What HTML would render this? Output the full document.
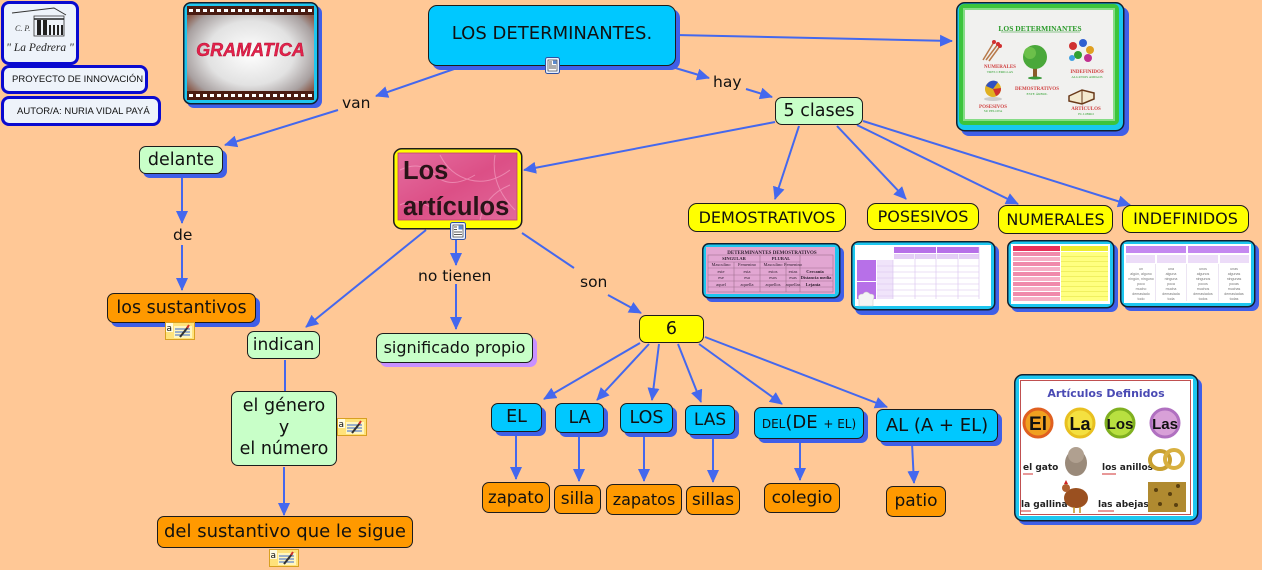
<!DOCTYPE html>
<html><head><meta charset="utf-8">
<style>
*{margin:0;padding:0;box-sizing:border-box}
body{width:1262px;height:570px;background:#FFC896;position:relative;overflow:hidden;font-family:"DejaVu Sans","Liberation Sans",sans-serif;color:#111}
svg{position:absolute;left:0;top:0}
.n{position:absolute;display:flex;align-items:center;justify-content:center;text-align:center;border:1.5px solid #1c1c1c;border-radius:7px;font-size:17.5px;line-height:1.2;white-space:nowrap;color:#111}
.g{background:#C8FFC8}
.c{background:#00C8FF}
.o{background:#FF9900}
.y{background:#FFFF00}
.sh{box-shadow:4px 4px 0 #3F5FE8}
.l{position:absolute;font-size:15.5px;white-space:nowrap;line-height:16px;color:#111}
.b{position:absolute;border:3px solid #0a0ad0;border-radius:8px;background:#eef3fa;font-family:"Liberation Sans",sans-serif;font-size:9.5px;color:#111;white-space:nowrap;display:flex;align-items:center}
</style></head><body>

<svg width="1262" height="570" viewBox="0 0 1262 570">
<defs>
<marker id="ah" markerWidth="13" markerHeight="12" refX="12" refY="6" orient="auto" markerUnits="userSpaceOnUse"><path d="M0,0L13,6L0,12z" fill="#4468EE"/></marker>
<radialGradient id="gr" cx="50%" cy="50%" r="62%"><stop offset="0" stop-color="#ffffff"/><stop offset=".55" stop-color="#e2e2e2"/><stop offset=".85" stop-color="#a8a0a0"/><stop offset="1" stop-color="#8a5a4a"/></radialGradient>
<linearGradient id="pk" x1="0" y1="0" x2="1" y2="1"><stop offset="0" stop-color="#e46ea0"/><stop offset=".5" stop-color="#dc4f86"/><stop offset="1" stop-color="#e2689a"/></linearGradient>
</defs>

<!-- connectors -->
<g stroke="#4468EE" stroke-width="2" fill="none" marker-end="url(#ah)">
<path d="M676,35L952,41"/>
<path d="M457,68L376,96"/>
<path d="M338,110L225,145"/>
<path d="M672,67L709,78"/>
<path d="M746,89L772,97"/>
<path d="M775,122L524,170"/>
<path d="M799,126L775,199"/>
<path d="M837,126L906,199"/>
<path d="M857,125L1018,204"/>
<path d="M863,121L1130,205"/>
<path d="M182,176L182,223"/>
<path d="M182,245L182,290"/>
<path d="M426,230L306,327"/>
<path d="M456,240L456,265"/>
<path d="M456,284L456,329"/>
<path d="M522,233L574,268" marker-end="none"/>
<path d="M608,295L641,313"/>
<path d="M285,360L285,391" marker-end="none"/>
<path d="M284,467L284,515"/>
<path d="M640,343L544,399"/>
<path d="M649,344L597,400"/>
<path d="M659,344L652,400"/>
<path d="M678,344L701,402"/>
<path d="M699,344L782,404"/>
<path d="M705,337L887,407"/>
<path d="M516,432L516,479"/>
<path d="M579,432L579,481"/>
<path d="M644,433L644,481"/>
<path d="M713,435L713,482"/>
<path d="M800,440L800,480"/>
<path d="M912,443L914,483"/>
</g>

<!-- GRAMATICA image -->
<rect x="187" y="6" width="135" height="102" rx="7" fill="#3F5FE8"/>
<rect x="183.75" y="2.75" width="134" height="101" rx="7" fill="#1ec6ef" stroke="#102030" stroke-width="1.5"/>
<rect x="187" y="6" width="127" height="94" fill="url(#gr)"/>
<rect x="187" y="6" width="127" height="9" fill="#4a1c12"/>
<rect x="187" y="91" width="127" height="9" fill="#4a1c12"/>
<line x1="189" y1="10.5" x2="313" y2="10.5" stroke="#fff" stroke-width="3" stroke-dasharray="4 3"/>
<line x1="189" y1="95.5" x2="313" y2="95.5" stroke="#fff" stroke-width="3" stroke-dasharray="4 3"/>
<text x="250.5" y="56" text-anchor="middle" font-family="Liberation Sans" font-weight="bold" font-style="italic" font-size="18" fill="#e3224c" stroke="#b01030" stroke-width=".4">GRAMATICA</text>

<!-- Top-right image -->
<rect x="961" y="7" width="168" height="129" rx="8" fill="#3F5FE8"/>
<rect x="956.75" y="2.75" width="167" height="128" rx="8" fill="#18c8ee" stroke="#102030" stroke-width="1.5"/>
<rect x="959" y="4" width="160" height="121" rx="5" fill="#3cc43c"/>
<rect x="963" y="8" width="152" height="113" fill="#86dc86"/>
<rect x="965" y="10" width="148" height="109" fill="#f1f1ef"/>
<text x="1040" y="31" text-anchor="middle" font-family="Liberation Serif" font-weight="bold" font-size="7.5" fill="#2a9a2a">LOS DETERMINANTES</text>
<line x1="1001" y1="32" x2="1080" y2="32" stroke="#2a9a2a" stroke-width=".6"/>
<g stroke="#b87a4a" stroke-width="1.5"><path d="M983,60L994,42"/><path d="M986,60L998,44"/><path d="M989,61L1000,46"/></g>
<circle cx="994" cy="42" r="2" fill="#d03030"/><circle cx="998" cy="44" r="2" fill="#d03030"/><circle cx="1000" cy="46" r="2" fill="#d03030"/>
<text x="1000" y="68" text-anchor="middle" font-family="Liberation Serif" font-size="5" fill="#d04040" font-weight="bold">NUMERALES</text>
<text x="1000" y="73" text-anchor="middle" font-family="Liberation Serif" font-size="3.5" fill="#30a030">TRES CERILLAS</text>
<rect x="1033" y="63" width="4" height="15" fill="#8a5a2a"/>
<circle cx="1035" cy="57" r="12" fill="#4aa83a"/><circle cx="1030" cy="53" r="6" fill="#6cc04a"/>
<ellipse cx="1035" cy="78" rx="7" ry="1.5" fill="#3a9a3a"/>
<circle cx="1073" cy="46" r="4" fill="#d03030"/><circle cx="1083" cy="43" r="4" fill="#3060d0"/><circle cx="1090" cy="50" r="4" fill="#e0a020"/><circle cx="1078" cy="55" r="4" fill="#30a030"/><circle cx="1088" cy="58" r="4" fill="#c03090"/><circle cx="1072" cy="58" r="3" fill="#40a0e0"/>
<text x="1087" y="73" text-anchor="middle" font-family="Liberation Serif" font-size="5" fill="#d04040" font-weight="bold">INDEFINIDOS</text>
<text x="1087" y="78" text-anchor="middle" font-family="Liberation Serif" font-size="3.5" fill="#30a030">ALGUNOS AMIGOS</text>
<circle cx="993" cy="89" r="8" fill="#e0b020"/><path d="M986,86 A8,8 0 0 1 998,82 L993,89z" fill="#3050c0"/><path d="M993,89 L1001,88 A8,8 0 0 1 996,96z" fill="#d03030"/>
<ellipse cx="993" cy="99" rx="9" ry="2" fill="#ccc"/>
<text x="1037" y="90" text-anchor="middle" font-family="Liberation Serif" font-size="5" fill="#d04040" font-weight="bold">DEMOSTRATIVOS</text>
<text x="1037" y="95" text-anchor="middle" font-family="Liberation Serif" font-size="3.5" fill="#30a030">ESTE ÁRBOL</text>
<text x="993" y="108" text-anchor="middle" font-family="Liberation Serif" font-size="5" fill="#d04040" font-weight="bold">POSESIVOS</text>
<text x="993" y="112" text-anchor="middle" font-family="Liberation Serif" font-size="3.5" fill="#30a030">SU PELOTA</text>
<path d="M1069,96 L1082,90 L1094,93 L1094,99 L1082,104 L1069,101z" fill="#f4ead0" stroke="#6a3a1a" stroke-width="1.5"/>
<path d="M1082,90 L1082,104" stroke="#6a3a1a" stroke-width="1"/>
<text x="1086" y="110" text-anchor="middle" font-family="Liberation Serif" font-size="5" fill="#d04040" font-weight="bold">ARTÍCULOS</text>
<text x="1086" y="115" text-anchor="middle" font-family="Liberation Serif" font-size="3.5" fill="#30a030">EL LIBRO</text>

<!-- Demostrativos thumbnail -->
<rect x="706" y="247" width="138" height="55" rx="6" fill="#3F5FE8"/>
<rect x="702.75" y="243.75" width="137" height="54" rx="6" fill="#1ec6ef" stroke="#102030" stroke-width="1.5"/>
<rect x="706" y="247" width="129" height="47" fill="#e2a6d2"/>
<text x="772" y="254" text-anchor="middle" font-family="Liberation Serif" font-weight="bold" font-size="5" fill="#302030">DETERMINANTES DEMOSTRATIVOS</text>
<g stroke="#a07090" stroke-width=".6" fill="none">
<rect x="708" y="255" width="125" height="37"/>
<path d="M708,262H800M708,268H833M708,275H833M708,281H833M708,287H833M734,262V292M760,255V292M786,262V292M800,255V292"/>
</g>
<g font-family="Liberation Serif" font-size="4.5" fill="#302030" text-anchor="middle">
<text x="734" y="260" font-weight="bold">SINGULAR</text><text x="781" y="260" font-weight="bold">PLURAL</text>
<text x="721" y="266">Masculino</text><text x="747" y="266">Femenino</text><text x="773" y="266">Masculino</text><text x="793" y="266">Femenino</text>
<text x="721" y="273">este</text><text x="747" y="273">esta</text><text x="773" y="273">estos</text><text x="793" y="273">estas</text><text x="815" y="273" font-weight="bold">Cercanía</text>
<text x="721" y="279">ese</text><text x="747" y="279">esa</text><text x="773" y="279">esos</text><text x="793" y="279">esas</text><text x="816" y="279" font-weight="bold">Distancia media</text>
<text x="721" y="286">aquel</text><text x="747" y="286">aquella</text><text x="773" y="286">aquellos</text><text x="793" y="286">aquellas</text><text x="813" y="286" font-weight="bold">Lejanía</text>
</g>

<!-- Posesivos thumbnail -->
<rect x="855" y="245" width="144" height="70" rx="7" fill="#3F5FE8"/>
<rect x="851.75" y="241.75" width="143" height="68" rx="7" fill="#1ec6ef" stroke="#102030" stroke-width="1.5"/>
<rect x="855" y="245" width="136" height="61" fill="#ffffff"/>
<rect x="894" y="247" width="42" height="6" fill="#b770e8"/><rect x="937" y="247" width="42" height="6" fill="#b770e8"/>
<g fill="#e4cdf6"><rect x="894" y="254" width="20" height="5"/><rect x="915" y="254" width="21" height="5"/><rect x="937" y="254" width="21" height="5"/><rect x="959" y="254" width="20" height="5"/></g>
<rect x="857" y="260" width="19" height="21" fill="#b770e8"/><rect x="857" y="282" width="19" height="17" fill="#b770e8"/>
<g fill="#f0e4fa"><rect x="877" y="260" width="16" height="39"/></g>
<g stroke="#d8c0ee" stroke-width=".6"><path d="M877,266H979M877,272H979M877,278H979M877,284H979M877,290H979M877,296H979M893,260V299M915,254V299M936,254V299M958,254V299M979,247V299"/></g>
<path d="M859,300 q-2,-6 4,-6 q3,-4 7,0 q6,0 3,6 v6 h-14z" fill="#f4f4f4" stroke="#ccc" stroke-width=".6"/>

<!-- Numerales thumbnail -->
<rect x="1011" y="244" width="107" height="68" rx="7" fill="#3F5FE8"/>
<rect x="1007.75" y="240.75" width="106" height="67" rx="7" fill="#1ec6ef" stroke="#102030" stroke-width="1.5"/>
<rect x="1011" y="244" width="99" height="60" fill="#ffffff"/>
<rect x="1013" y="246" width="47" height="5" fill="#e8305a"/><rect x="1061" y="246" width="47" height="5" fill="#ecec30"/>
<g fill="#f08aab"><rect x="1013" y="252" width="47" height="4"/><rect x="1013" y="262" width="47" height="4"/><rect x="1013" y="272" width="47" height="4"/><rect x="1013" y="282" width="47" height="4"/><rect x="1013" y="292" width="47" height="4"/></g>
<g fill="#f6b0c6"><rect x="1013" y="257" width="47" height="4"/><rect x="1013" y="267" width="47" height="4"/><rect x="1013" y="277" width="47" height="4"/><rect x="1013" y="287" width="47" height="4"/><rect x="1013" y="297" width="47" height="4"/></g>
<rect x="1061" y="252" width="47" height="49" fill="#ffff80"/>
<g stroke="#e0e040" stroke-width=".5"><path d="M1061,256.5H1108M1061,261.5H1108M1061,266.5H1108M1061,271.5H1108M1061,276.5H1108M1061,281.5H1108M1061,286.5H1108M1061,291.5H1108M1061,296.5H1108"/></g>

<!-- Indefinidos thumbnail -->
<rect x="1124" y="244" width="135" height="67" rx="7" fill="#3F5FE8"/>
<rect x="1120.75" y="240.75" width="134" height="66" rx="7" fill="#1ec6ef" stroke="#102030" stroke-width="1.5"/>
<rect x="1124" y="244" width="127" height="59" fill="#ffffff"/>
<rect x="1126" y="246" width="60" height="7" fill="#c488f0"/><rect x="1188" y="246" width="61" height="7" fill="#c488f0"/>
<g fill="#ecdcf8"><rect x="1126" y="255" width="29" height="8"/><rect x="1157" y="255" width="29" height="8"/><rect x="1188" y="255" width="30" height="8"/><rect x="1220" y="255" width="29" height="8"/></g>
<g stroke="#e0d4ec" stroke-width=".6"><path d="M1155.5,264V301M1186.5,264V301M1218.5,264V301"/></g>
<g font-family="Liberation Sans" font-size="3.6" fill="#777" text-anchor="middle">
<text x="1141" y="270">un</text><text x="1141" y="275">algún, alguno</text><text x="1141" y="280">ningún, ninguno</text><text x="1141" y="285">poco</text><text x="1141" y="290">mucho</text><text x="1141" y="295">demasiado</text><text x="1141" y="300">todo</text>
<text x="1171" y="270">una</text><text x="1171" y="275">alguna</text><text x="1171" y="280">ninguna</text><text x="1171" y="285">poca</text><text x="1171" y="290">mucha</text><text x="1171" y="295">demasiada</text><text x="1171" y="300">toda</text>
<text x="1203" y="270">unos</text><text x="1203" y="275">algunos</text><text x="1203" y="280">ningunos</text><text x="1203" y="285">pocos</text><text x="1203" y="290">muchos</text><text x="1203" y="295">demasiados</text><text x="1203" y="300">todos</text>
<text x="1234" y="270">unas</text><text x="1234" y="275">algunas</text><text x="1234" y="280">ningunas</text><text x="1234" y="285">pocas</text><text x="1234" y="290">muchas</text><text x="1234" y="295">demasiadas</text><text x="1234" y="300">todas</text>
</g>

<!-- Artículos definidos image -->
<rect x="1018" y="378" width="184" height="147" rx="8" fill="#3F5FE8"/>
<rect x="1014.75" y="374.75" width="183" height="146" rx="8" fill="#1ec6ef" stroke="#102030" stroke-width="1.5"/>
<rect x="1019" y="379" width="174" height="137" fill="#ffffff"/>
<rect x="1020.5" y="380.5" width="170" height="134" fill="none" stroke="#c05050" stroke-width="1"/>
<text x="1106" y="397" text-anchor="middle" font-family="DejaVu Sans" font-weight="bold" font-size="11" fill="#4a4ab4">Artículos Definidos</text>
<circle cx="1038" cy="423" r="14" fill="#f0a020" stroke="#e06020" stroke-width="3"/>
<circle cx="1080" cy="423" r="14" fill="#f4e040" stroke="#e8c020" stroke-width="3"/>
<circle cx="1120" cy="423" r="14" fill="#b8e040" stroke="#80b020" stroke-width="3"/>
<circle cx="1165" cy="423" r="14" fill="#d8a0d8" stroke="#b070c0" stroke-width="3"/>
<g font-family="Liberation Sans" font-weight="bold" fill="#111" text-anchor="middle">
<text x="1038" y="430" font-size="19">El</text><text x="1080" y="430" font-size="18">La</text><text x="1120" y="429" font-size="15">Los</text><text x="1165" y="429" font-size="15">Las</text>
</g>
<g font-family="DejaVu Sans" font-weight="bold" font-size="9" fill="#222">
<text x="1023" y="470">el gato</text><text x="1102" y="470">los anillos</text>
<text x="1021" y="507">la gallina</text><text x="1098" y="507">las abejas</text>
</g>
<g stroke="#d03030" stroke-width="1"><path d="M1023,474h10M1102,474h14M1021,511h10M1098,511h16"/></g>
<ellipse cx="1076" cy="463" rx="11" ry="13" fill="#9a8a7a"/><circle cx="1076" cy="455" r="8" fill="#b0a090"/>
<ellipse cx="1160" cy="460" rx="10" ry="9" fill="none" stroke="#c8a030" stroke-width="4"/><ellipse cx="1174" cy="459" rx="9" ry="9" fill="none" stroke="#d8b040" stroke-width="4"/>
<ellipse cx="1076" cy="498" rx="12" ry="10" fill="#9a5020"/><circle cx="1066" cy="488" r="4" fill="#b06030"/><path d="M1064,484l2,-4l2,4z" fill="#d02020"/><path d="M1074,507v6M1080,507v6" stroke="#c09020" stroke-width="1.5"/>
<rect x="1148" y="482" width="38" height="30" fill="#b08a30"/><g fill="#5a4010"><circle cx="1156" cy="490" r="2"/><circle cx="1170" cy="494" r="2"/><circle cx="1178" cy="486" r="2"/><circle cx="1160" cy="504" r="2"/><circle cx="1176" cy="505" r="2"/></g>

<!-- Los artículos node -->
<rect x="393.75" y="148.75" width="128" height="80" rx="8" fill="#FFFF00" stroke="#1c1c1c" stroke-width="1.5"/>
<rect x="398" y="153" width="119" height="67" fill="url(#pk)" stroke="#c04070" stroke-width=".8"/>
<g fill="none" stroke="#f6a8c8" stroke-width="1" opacity=".6">
<path d="M400,170 q20,-10 35,5 t40,0"/><path d="M440,155 q10,20 30,25 t40,-10"/><path d="M480,220 q5,-25 30,-35"/><path d="M400,205 q15,-8 30,2"/><path d="M495,155 q-5,30 20,55"/>
</g>
<text x="403" y="179" font-family="Liberation Sans" font-weight="bold" font-size="25.5" fill="#2a1418">Los</text>
<text x="403" y="215" font-family="Liberation Sans" font-weight="bold" font-size="25.5" fill="#2a1418">artículos</text>
</svg>

<!-- Logo & info boxes -->
<div class="b" style="left:1px;top:1px;width:78px;height:64px;"></div>
<svg width="1262" height="570" viewBox="0 0 1262 570" style="pointer-events:none">
<path d="M12,13 L54,8 L66,15" stroke="#333" stroke-width="1" fill="none"/>
<path d="M34,16 L64,16 L64,36 L34,36z" fill="none" stroke="#333" stroke-width=".8"/>
<rect x="37" y="20" width="4" height="15" fill="#222"/><rect x="43" y="20" width="4" height="15" fill="#222"/><rect x="49" y="25" width="2" height="10" fill="#222"/><rect x="53" y="25" width="2" height="10" fill="#222"/><rect x="57" y="25" width="2" height="10" fill="#222"/><rect x="61" y="25" width="2" height="10" fill="#222"/>
<path d="M34,19 H64" stroke="#222" stroke-width="1.5"/>
<text x="15" y="31" font-family="Liberation Serif" font-style="italic" font-size="8" fill="#333">C. P.</text>
<text x="40" y="51" text-anchor="middle" font-family="Liberation Serif" font-style="italic" font-size="11.5" fill="#222">" La Pedrera "</text>
</svg>
<div class="b" style="left:1px;top:65px;width:147px;height:29px;padding-left:8px;">PROYECTO DE INNOVACIÓN</div>
<div class="b" style="left:1px;top:96px;width:160px;height:30px;padding-left:13px;">AUTOR/A: NURIA VIDAL PAYÁ</div>

<!-- nodes -->
<div class="n c sh" style="left:428px;top:5px;width:248px;height:61px;border-radius:9px;font-size:18px;padding-bottom:4px;">LOS DETERMINANTES.</div>
<div class="n g" style="left:775px;top:97px;width:88px;height:28px;">5 clases</div>
<div class="n g sh" style="left:139px;top:146px;width:84px;height:28px;">delante</div>
<div class="n o sh" style="left:107px;top:293px;width:149px;height:30px;">los sustantivos</div>
<div class="n g" style="left:247px;top:331px;width:73px;height:28px;font-size:17px;">indican</div>
<div class="n g" style="left:376px;top:333px;width:157px;height:30px;box-shadow:4px 4px 0 #C890FF;font-size:16px;">significado propio</div>
<div class="n g" style="left:231px;top:391px;width:106px;height:75px;line-height:21.5px;">el género<br>y<br>el número</div>
<div class="n o" style="left:157px;top:516px;width:256px;height:32px;font-size:18px;">del sustantivo que le sigue</div>

<div class="n y" style="left:688px;top:203px;width:158px;height:29px;font-size:16px;border-radius:9px;">DEMOSTRATIVOS</div>
<div class="n y" style="left:867px;top:203px;width:112px;height:27px;font-size:16px;border-radius:9px;">POSESIVOS</div>
<div class="n y" style="left:998px;top:205px;width:115px;height:29px;font-size:16px;border-radius:9px;">NUMERALES</div>
<div class="n y" style="left:1122px;top:205px;width:127px;height:28px;font-size:16px;border-radius:9px;">INDEFINIDOS</div>

<div class="n y" style="left:639px;top:315px;width:65px;height:28px;">6</div>
<div class="n c sh" style="left:491px;top:403px;width:51px;height:29px;">EL</div>
<div class="n c sh" style="left:555px;top:403px;width:49px;height:30px;">LA</div>
<div class="n c sh" style="left:620px;top:403px;width:53px;height:30px;">LOS</div>
<div class="n c sh" style="left:685px;top:405px;width:50px;height:30px;font-size:17px;">LAS</div>
<div class="n c sh" style="left:754px;top:407px;width:110px;height:32px;font-size:18px;"><span style="font-size:12px;padding-top:3px;">DEL</span>(DE&nbsp;<span style="font-size:12px;padding-top:3px;">+ EL)</span></div>
<div class="n c sh" style="left:876px;top:409px;width:122px;height:33px;font-size:18px;">AL (A + EL)</div>

<div class="n o" style="left:482px;top:482px;width:68px;height:31px;font-size:16.5px;">zapato</div>
<div class="n o" style="left:554px;top:485px;width:47px;height:29px;font-size:17px;">silla</div>
<div class="n o" style="left:606px;top:484px;width:76px;height:31px;font-size:16px;">zapatos</div>
<div class="n o" style="left:686px;top:486px;width:54px;height:29px;font-size:17px;">sillas</div>
<div class="n o" style="left:764px;top:483px;width:76px;height:30px;font-size:17px;">colegio</div>
<div class="n o" style="left:886px;top:486px;width:60px;height:31px;font-size:17px;">patio</div>

<!-- linking phrases -->
<div class="l" style="left:342px;top:95px;">van</div>
<div class="l" style="left:713px;top:74px;">hay</div>
<div class="l" style="left:173px;top:227px;">de</div>
<div class="l" style="left:418px;top:268px;">no tienen</div>
<div class="l" style="left:580px;top:274px;">son</div>

<!-- icons overlay -->
<svg width="1262" height="570" viewBox="0 0 1262 570" style="pointer-events:none">
<g transform="translate(545,57)"><rect x="0.5" y="0.5" width="14" height="16" rx="2" fill="#e8f0ff" stroke="#3050a0"/><rect x="3" y="3" width="9" height="11" fill="#fff" stroke="#222" stroke-width=".6"/><rect x="8" y="3.5" width="3.5" height="3.5" fill="#5a8ad0"/><path d="M4 5h3M4 7h3M4 9h7M4 11h7" stroke="#222" stroke-width=".8"/></g>
<g transform="translate(450,222)"><rect x="0.5" y="0.5" width="15" height="17" rx="2" fill="#e8f0ff" stroke="#3050a0"/><rect x="3" y="3" width="10" height="12" fill="#fff" stroke="#222" stroke-width=".6"/><rect x="8.5" y="3.5" width="4" height="4" fill="#5a8ad0"/><path d="M4 5h3M4 7.5h3M4 10h8M4 12.5h8" stroke="#222" stroke-width=".8"/></g>
<g transform="translate(165,322)"><rect x="0.5" y="0.5" width="29" height="17" fill="#ffe27a" stroke="#d8a020"/><rect x="1" y="1" width="7" height="9" fill="#fffbe0"/><text x="1.5" y="9" font-size="9" font-family="DejaVu Sans" fill="#111">a</text><rect x="9" y="4" width="18" height="12" fill="#fff6c0"/><path d="M10 7h15M10 10h15M10 13h15" stroke="#3a6ad0" stroke-width="1"/><path d="M15 15 L23 5" stroke="#333" stroke-width="2"/><path d="M22 6 L24 3" stroke="#d03030" stroke-width="2"/></g>
<g transform="translate(337,418)"><rect x="0.5" y="0.5" width="29" height="17" fill="#ffe27a" stroke="#d8a020"/><rect x="1" y="1" width="7" height="9" fill="#fffbe0"/><text x="1.5" y="9" font-size="9" font-family="DejaVu Sans" fill="#111">a</text><rect x="9" y="4" width="18" height="12" fill="#fff6c0"/><path d="M10 7h15M10 10h15M10 13h15" stroke="#3a6ad0" stroke-width="1"/><path d="M15 15 L23 5" stroke="#333" stroke-width="2"/><path d="M22 6 L24 3" stroke="#d03030" stroke-width="2"/></g>
<g transform="translate(269,549)"><rect x="0.5" y="0.5" width="29" height="17" fill="#ffe27a" stroke="#d8a020"/><rect x="1" y="1" width="7" height="9" fill="#fffbe0"/><text x="1.5" y="9" font-size="9" font-family="DejaVu Sans" fill="#111">a</text><rect x="9" y="4" width="18" height="12" fill="#fff6c0"/><path d="M10 7h15M10 10h15M10 13h15" stroke="#3a6ad0" stroke-width="1"/><path d="M15 15 L23 5" stroke="#333" stroke-width="2"/><path d="M22 6 L24 3" stroke="#d03030" stroke-width="2"/></g>
</svg>
</body></html>
